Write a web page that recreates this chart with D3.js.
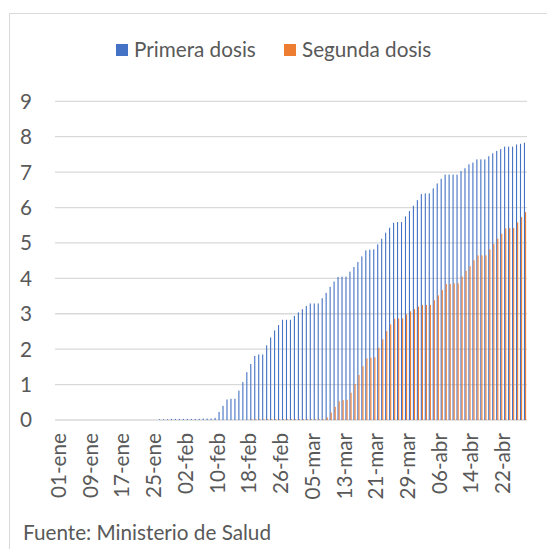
<!DOCTYPE html>
<html>
<head>
<meta charset="utf-8">
<script src="https://cdn.jsdelivr.net/npm/d3@7"></script>
<style>
  html, body { margin: 0; padding: 0; background: #fff; }
  svg { display: block; font-family: Lato, "Open Sans", sans-serif; }
</style>
</head>
<body>
<div id="chart"></div>
<script>
// Vacunas aplicadas (millones), acumulado diario 01-ene .. 28-abr
const startDay = new Date(2020, 0, 1);
const endDay = new Date(2020, 3, 29);
const days = d3.timeDay.range(startDay, endDay);

const seriesNames = ['Primera dosis', 'Segunda dosis'];
const seriesColors = ['#4472C4', '#ED7D31'];

const primera = [
  0, 0, 0, 0, 0, 0, 0, 0, 0, 0, 0, 0, 0, 0, 0, 0, 0, 0, 0, 0, 0, 0, 0, 0, 0, 0,
  0.02, 0.02, 0.02, 0.03, 0.03, 0.03, 0.03, 0.03, 0.03, 0.03, 0.03, 0.04, 0.04, 0.04,
  0.06,
  0.23, 0.40, 0.58, 0.60, 0.60, 0.83, 1.07, 1.35,
  1.58, 1.81, 1.85, 1.85, 2.11, 2.33, 2.53, 2.68, 2.83, 2.83, 2.83, 2.94, 3.04, 3.13,
  3.22, 3.29, 3.29, 3.29, 3.44, 3.59, 3.76, 3.91,
  4.04, 4.05, 4.05, 4.19, 4.32, 4.46, 4.62, 4.79, 4.81, 4.82, 4.96, 5.12, 5.29, 5.43,
  5.57, 5.59, 5.59, 5.75, 5.90, 6.05, 6.21,
  6.38, 6.40, 6.40, 6.54, 6.68, 6.81, 6.93, 6.93, 6.93, 6.93, 7.03, 7.11, 7.22, 7.27,
  7.36, 7.36, 7.36, 7.45, 7.53, 7.60, 7.65, 7.72, 7.72, 7.72, 7.78, 7.80, 7.83
];

const segunda = [
  0, 0, 0, 0, 0, 0, 0, 0, 0, 0, 0, 0, 0, 0, 0, 0, 0, 0, 0, 0, 0, 0, 0, 0, 0,
  0, 0, 0, 0, 0, 0, 0, 0, 0, 0, 0, 0, 0, 0, 0, 0, 0, 0, 0, 0, 0, 0, 0, 0,
  0.02, 0.02, 0.02, 0.02, 0.02, 0.02, 0.02, 0.02, 0.02, 0.02, 0.02, 0.02, 0.02, 0.02,
  0.02, 0.02, 0.02, 0.02, 0.02,
  0.07,
  0.21, 0.37, 0.53, 0.56, 0.57, 0.77, 1.02, 1.27, 1.52, 1.74, 1.76, 1.77, 2.04, 2.28,
  2.51, 2.70, 2.86, 2.87, 2.87, 2.98, 3.07, 3.13, 3.20,
  3.25, 3.25, 3.25, 3.38, 3.52, 3.67, 3.84, 3.84, 3.86, 3.86, 4.05, 4.21, 4.34, 4.51,
  4.65, 4.65, 4.65, 4.82, 4.97, 5.12, 5.26, 5.41, 5.42, 5.42, 5.58, 5.73, 5.87
];

const yTicks = [0, 1, 2, 3, 4, 5, 6, 7, 8, 9];
const tickEvery = 8; // una etiqueta cada 8 días
const sourceText = 'Fuente: Ministerio de Salud';

const width = 547, height = 549;
const plot = { left: 55, right: 527, top: 101.3, bottom: 420 };
const textColor = '#595959';
const gridColor = '#d9d9d9';
const fontSize = '20.7px';

const meses = ['ene', 'feb', 'mar', 'abr', 'may', 'jun', 'jul', 'ago', 'sep', 'oct', 'nov', 'dic'];
const fmtDay = d => d3.timeFormat('%d')(d) + '-' + meses[d.getMonth()];

const svg = d3.select('#chart').append('svg')
  .attr('width', width)
  .attr('height', height);

// chart frame (right and bottom edges fall outside the picture)
svg.append('rect')
  .attr('x', 9.5).attr('y', 13.5)
  .attr('width', 600).attr('height', 600)
  .attr('fill', '#fff')
  .attr('stroke', gridColor)
  .attr('stroke-width', 1);

const x = d3.scaleBand()
  .domain(d3.range(days.length))
  .range([plot.left, plot.right])
  .paddingInner(0)
  .paddingOuter(0);

const xSub = d3.scaleBand()
  .domain(seriesNames)
  .range([0, x.bandwidth()])
  .paddingInner(0)
  .paddingOuter(0.8);

const y = d3.scaleLinear()
  .domain([0, 9])
  .range([plot.bottom, plot.top]);

// gridlines
svg.append('g')
  .selectAll('line')
  .data(yTicks)
  .join('line')
  .attr('x1', plot.left).attr('x2', plot.right)
  .attr('y1', d => y(d)).attr('y2', d => y(d))
  .attr('stroke', gridColor)
  .attr('stroke-width', d => d === 0 ? 1.6 : 1.3);

// y labels
svg.append('g')
  .selectAll('text')
  .data(yTicks)
  .join('text')
  .attr('x', 32)
  .attr('y', d => y(d))
  .attr('dy', '0.36em')
  .attr('text-anchor', 'end')
  .attr('fill', textColor)
  .style('font-size', fontSize)
  .text(d => d);

// bars
const table = seriesNames.map((name, s) => ({
  name,
  color: seriesColors[s],
  values: (s === 0 ? primera : segunda).map((v, i) => ({ i, v }))
}));

svg.append('g')
  .selectAll('g')
  .data(table)
  .join('g')
  .attr('fill', d => d.color)
  .each(function(ser) {
    d3.select(this).selectAll('rect')
      .data(ser.values.filter(d => d.v > 0))
      .join('rect')
      .attr('x', d => x(d.i) + xSub(ser.name))
      .attr('width', xSub.bandwidth())
      .attr('y', d => y(d.v))
      .attr('height', d => y(0) - y(d.v));
  });

// x labels, rotated
const labelIdx = d3.range(0, days.length, tickEvery);
svg.append('g')
  .selectAll('text')
  .data(labelIdx)
  .join('text')
  .attr('transform', i => `translate(${x(i) + x.bandwidth() / 2 + 1.5},433) rotate(-90)`)
  .attr('dy', '0.36em')
  .attr('text-anchor', 'end')
  .attr('fill', textColor)
  .style('font-size', fontSize)
  .text(i => fmtDay(days[i]));

// legend
const legendX = [116, 284];
const legend = svg.append('g')
  .selectAll('g')
  .data(seriesNames)
  .join('g')
  .attr('transform', (d, i) => `translate(${legendX[i]},44)`);
legend.append('rect')
  .attr('width', 12).attr('height', 12)
  .attr('fill', (d, i) => seriesColors[i]);
legend.append('text')
  .attr('x', 18).attr('y', 12.5)
  .attr('fill', textColor)
  .style('font-size', fontSize)
  .text(d => d);

// source
svg.append('text')
  .attr('x', 23).attr('y', 539.5)
  .attr('fill', textColor)
  .style('font-size', fontSize)
  .text(sourceText);
</script>
</body>
</html>
